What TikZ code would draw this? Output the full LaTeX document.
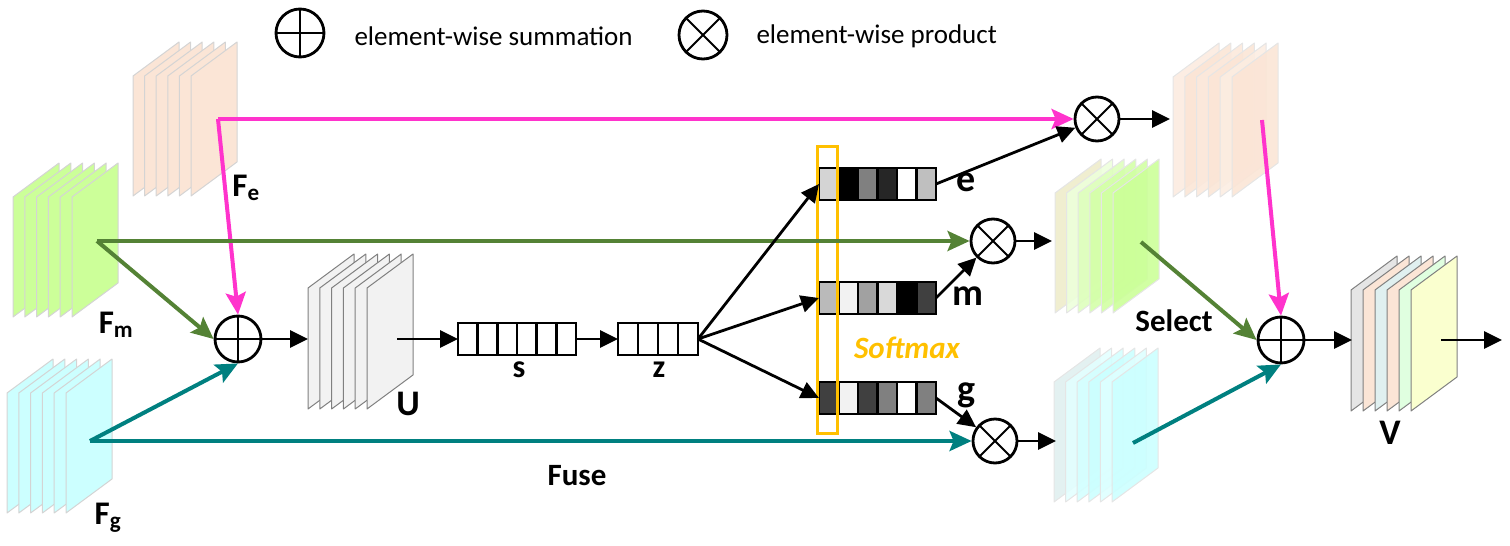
\documentclass[tikz,border=0pt]{standalone}
\usepackage{fontspec}
\setmainfont{Carlito}
\usepackage{tikz}
\usetikzlibrary{arrows.meta, positioning, calc}
\definecolor{fepink}{RGB}{255, 51, 204}
\definecolor{fmgreen}{RGB}{84, 130, 53}
\definecolor{fgteal}{RGB}{0, 128, 128}
\definecolor{softorange}{RGB}{255, 192, 0}
\definecolor{peach}{RGB}{251, 229, 214}
\definecolor{lime}{RGB}{204, 255, 153}
\definecolor{paleteal}{RGB}{204, 255, 255}
\definecolor{ugray}{RGB}{242, 242, 242}

\begin{document}
\begin{tikzpicture}[x=1pt, y=-1pt,
    sheet/.style={draw=black!17, line width=1pt, line join=round},
    vecbox/.style={draw, line width=2.6pt, inner sep=0pt, outer sep=0pt, minimum height=32pt, anchor=north west},
    opsum/.style={circle, draw, line width=2.8pt, inner sep=0pt, minimum size=46pt,
        path picture={\draw[line width=2.6pt] (path picture bounding box.north) -- (path picture bounding box.south)
            (path picture bounding box.west) -- (path picture bounding box.east);}},
    opprod/.style={circle, draw, line width=2.8pt, inner sep=0pt, minimum size=44pt,
        path picture={\draw[line width=2pt] (path picture bounding box.north west) -- (path picture bounding box.south east)
            (path picture bounding box.south west) -- (path picture bounding box.north east);}},
    arr/.style={-{Triangle[length=18pt,width=17pt]}, line width=2.8pt},
    carr/.style={-{Stealth[length=22pt,width=20pt,inset=4pt]}, line width=4pt},
    lbl/.style={font=\fontsize{33}{33}\selectfont\bfseries, inner sep=0pt}
]
    \useasboundingbox (0,0) rectangle (1510,546);

    % Legend
    \node[opsum, minimum size=48pt] (legSum) at (300,33) {};
    \node[anchor=west, font=\fontsize{27}{27}\selectfont] (legSumTxt) at (351,36) {element-wise summation};
    \node[opprod, minimum size=48pt] (legProd) at (703,35) {};
    \node[anchor=west, font=\fontsize{27}{27}\selectfont] (legProdTxt) at (753,36) {element-wise product};

    % Input feature maps
    \foreach \i in {0,...,5} {
        \draw[sheet, fill=peach] ({133+11.6*\i},76) -- ++(46,-34) -- ++(0,120) -- ++(-46,34) -- cycle;
        \draw[sheet, fill=lime] ({13+11.8*\i},197) -- ++(46,-34) -- ++(0,120) -- ++(-46,34) -- cycle;
        \draw[sheet, fill=paleteal] ({7+11.8*\i},393) -- ++(46,-34) -- ++(0,120) -- ++(-46,34) -- cycle;
        \draw[sheet, draw=black!50, fill=ugray] ({308+11.8*\i},288) -- ++(46,-34) -- ++(0,121) -- ++(-46,34) -- cycle;
    }
    \node[lbl] (feLbl) at (246,188) {F\textsubscript{e}};
    \node[lbl] (fmLbl) at (116,325) {F\textsubscript{m}};
    \node[lbl] (fgLbl) at (108,518) {F\textsubscript{g}};
    \node[lbl, font=\fontsize{36}{36}\selectfont\bfseries] (uLbl) at (408,404) {U};

    % Selected feature maps
    \foreach \i/\c in {0/peach!75,1/peach,2/peach!85,3/peach,4/peach!70,5/peach} {
        \draw[sheet, draw=black!10, fill=\c, fill opacity=0.9] ({1173+11.8*\i},77) -- ++(46,-34) -- ++(0,120) -- ++(-46,34) -- cycle;
    }
    \foreach \i/\c in {0/olive!15,1/lime!35,2/lime!65,3/lime!85,4/lime!90,5/lime} {
        \draw[sheet, draw=black!10, fill=\c, fill opacity=0.9] ({1055+11.6*\i},193) -- ++(46,-34) -- ++(0,120) -- ++(-46,34) -- cycle;
    }
    \foreach \i/\c in {0/fgteal!12,1/paleteal!55,2/paleteal!85,3/paleteal,4/paleteal!65,5/paleteal} {
        \draw[sheet, draw=black!10, fill=\c, fill opacity=0.9] ({1054+11.6*\i},382) -- ++(46,-34) -- ++(0,120) -- ++(-46,34) -- cycle;
    }

    % Output V
    \foreach \i/\c in {0/black!10,1/peach,2/fgteal!12,3/peach,4/green!12,5/lime!40!yellow!25} {
        \draw[sheet, draw=black!50, fill=\c] ({1351+12*\i},290) -- ++(46,-34) -- ++(0,121) -- ++(-46,34) -- cycle;
    }
    \node[lbl, font=\fontsize{36}{36}\selectfont\bfseries] (vLbl) at (1390,433) {V};

    % Squeeze vectors s and z
    \node[vecbox, minimum width=118pt] (sBox) at (458,323) {};
    \foreach \i in {1,...,5} { \draw[line width=2.6pt] ({458+19.67*\i},323) -- ++(0,32); }
    \node[vecbox, minimum width=80pt] (zBox) at (618,323) {};
    \foreach \i in {1,...,3} { \draw[line width=2.6pt] ({618+20*\i},323) -- ++(0,32); }
    \node[lbl, font=\fontsize{32}{32}\selectfont\bfseries] (sLbl) at (519,370) {s};
    \node[lbl, font=\fontsize{32}{32}\selectfont\bfseries] (zLbl) at (659,370) {z};

    % Attention vectors
    \foreach \i/\c in {0/black!17,1/black,2/black!50,3/black!85,4/white,5/black!25} {
        \fill[\c] ({819+19.5*\i},168) rectangle ++(19.5,32);
    }
    \foreach \i/\c in {0/black!27,1/black!5,2/black!37,3/black!15,4/black,5/black!75} {
        \fill[\c] ({819+19.5*\i},282) rectangle ++(19.5,32);
    }
    \foreach \i/\c in {0/black!75,1/black!5,2/black!75,3/black!50,4/white,5/black!50} {
        \fill[\c] ({819+19.5*\i},382) rectangle ++(19.5,32);
    }
    \node[vecbox, minimum width=117pt] (vecE) at (819,168) {};
    \node[vecbox, minimum width=117pt] (vecM) at (819,282) {};
    \node[vecbox, minimum width=117pt] (vecG) at (819,382) {};
    \foreach \y in {168,282,382} {
        \foreach \i in {1,...,5} { \draw[line width=2.6pt] ({819+19.5*\i},\y) -- ++(0,32); }
    }
    \node[lbl, font=\fontsize{38}{38}\selectfont\bfseries] (eLbl) at (966,182) {e};
    \node[lbl, font=\fontsize{38}{38}\selectfont\bfseries] (mLbl) at (968,296) {m};
    \node[lbl, font=\fontsize{38}{38}\selectfont\bfseries] (gLbl) at (966,395) {g};

    % Softmax
    \node[draw=softorange, line width=3.4pt, minimum width=20pt, minimum height=287pt, inner sep=0pt] (softBox) at (827.5,290) {};
    \node[text=softorange, font=\fontsize{31}{31}\selectfont\bfseries\itshape] (softLbl) at (907,348) {Softmax};

    % Operators
    \node[opsum] (sumL) at (238,339) {};
    \node[opsum] (sumR) at (1281,340) {};
    \node[opprod] (prodE) at (1097,119) {};
    \node[opprod] (prodM) at (993,241) {};
    \node[opprod] (prodG) at (995,441) {};

    \coordinate (feOut) at (218,119);
    \coordinate (fmOut) at (97,241);
    \coordinate (fgOut) at (90,441);
    \coordinate (uIn) at (308,339);
    \coordinate (uOut) at (397,339);
    \coordinate (eIn) at (1170,119);
    \coordinate (mIn) at (1052,241);
    \coordinate (gIn) at (1056,441);
    \coordinate (eSel) at (1262,120);
    \coordinate (mSel) at (1141,242);
    \coordinate (gSel) at (1133,443);
    \coordinate (vIn) at (1352,340);
    \coordinate (vOut) at (1441,340);
    \coordinate (outEnd) at (1502,340);

    % Fuse
    \draw[carr, fepink] (feOut) -- (prodE.west);
    \draw[carr, fepink] (feOut) -- (sumL.north);
    \draw[carr, fmgreen] (fmOut) -- (prodM.west);
    \draw[carr, fmgreen] (fmOut) -- (sumL.west);
    \draw[carr, fgteal] (fgOut) -- (prodG.west);
    \draw[carr, fgteal] (fgOut) -- (sumL.south);
    \draw[arr] (sumL.east) -- (uIn);
    \draw[arr] (uOut) -- (sBox.west);
    \draw[arr] (sBox.east) -- (zBox.west);
    \draw[arr] (zBox.east) -- (vecE.west);
    \draw[arr] (zBox.east) -- (vecM.west);
    \draw[arr] (zBox.east) -- (vecG.west);
    \node[lbl, font=\fontsize{31}{31}\selectfont\bfseries] (fuseLbl) at (577,476) {Fuse};

    % Select
    \draw[arr] (vecE.east) -- (prodE);
    \draw[arr] (vecM.east) -- (prodM);
    \draw[arr] (vecG.east) -- (prodG);
    \draw[arr] (prodE) -- (eIn);
    \draw[arr] (prodM) -- (mIn);
    \draw[arr] (prodG) -- (gIn);
    \draw[carr, fepink] (eSel) -- (sumR.north);
    \draw[carr, fmgreen] (mSel) -- (sumR.west);
    \draw[carr, fgteal] (gSel) -- (sumR.south);
    \draw[arr] (sumR.east) -- (vIn);
    \draw[arr] (vOut) -- (outEnd);
    \node[lbl, font=\fontsize{31}{31}\selectfont\bfseries] (selLbl) at (1174,321) {Select};
\end{tikzpicture}
\end{document}
